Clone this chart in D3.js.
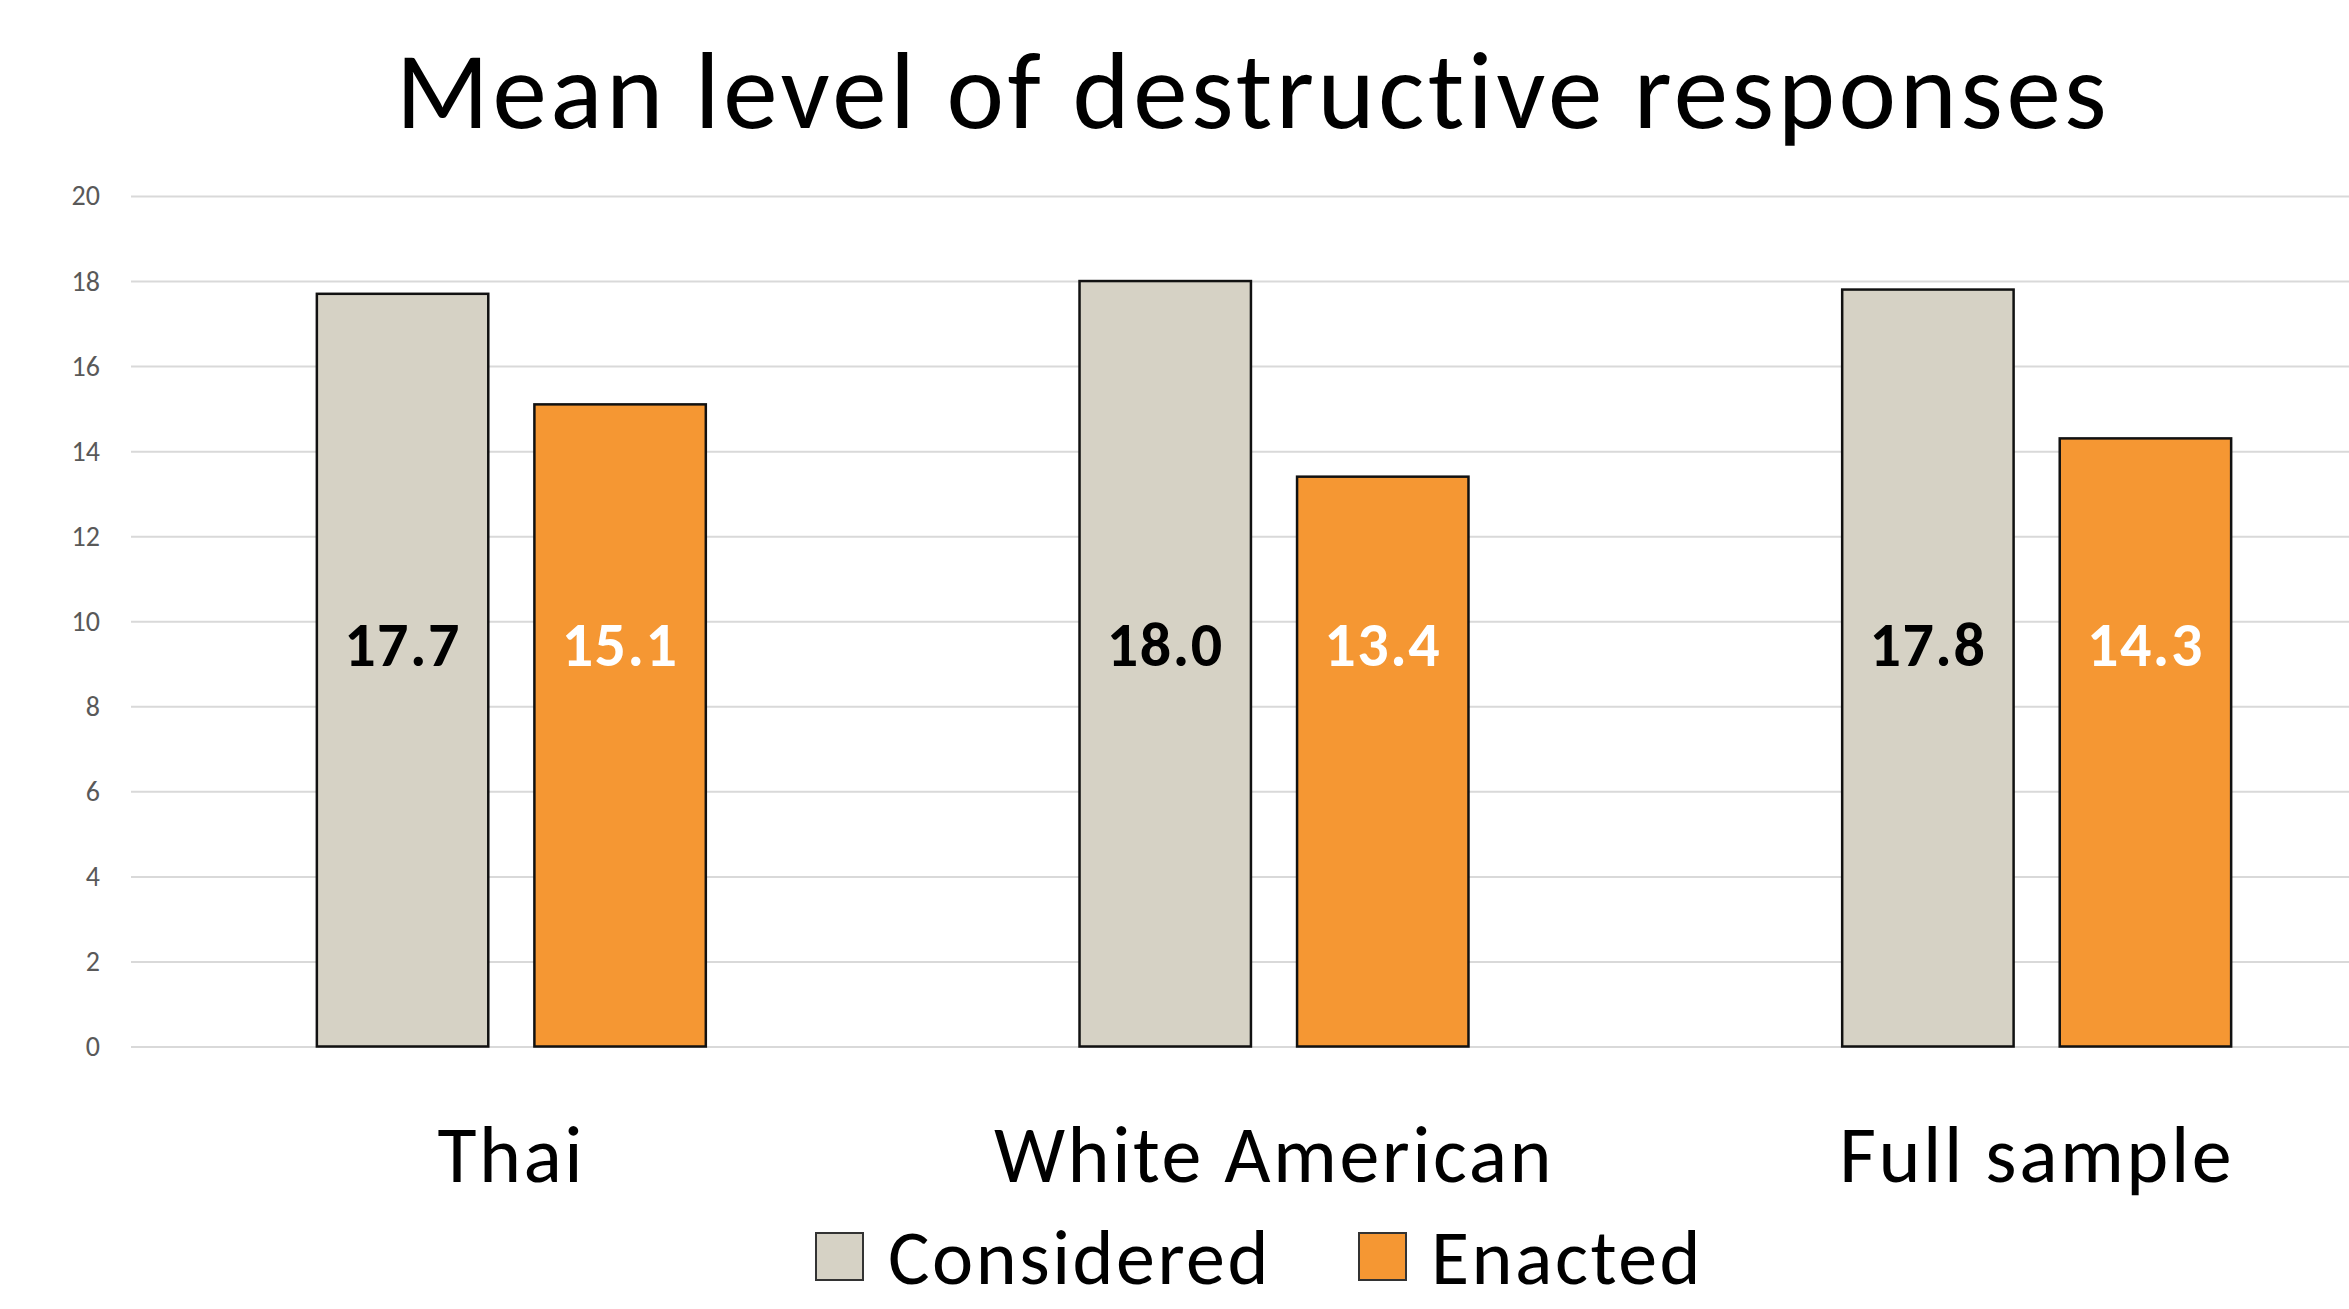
<!DOCTYPE html>
<html>
<head>
<meta charset="utf-8">
<script src="https://cdn.jsdelivr.net/npm/d3@7"></script>
<style>
  body { margin: 0; background: #fff; }
  svg { display: block; font-family: Calibri, Carlito, Lato, sans-serif; }
</style>
</head>
<body>
<svg id="chart"></svg>
<script>
// Data
const groups = ["Thai", "White American", "Full sample"];
const series = ["Considered", "Enacted"];
const considered = [17.7, 18.0, 17.8];
const enacted = [15.1, 13.4, 14.3];
const yTicks = [0, 2, 4, 6, 8, 10, 12, 14, 16, 18, 20];

const width = 2349;
const height = 1309;

const colors = { Considered: "#d6d2c5", Enacted: "#f59733" };
const labelColors = { Considered: "#000", Enacted: "#fff" };

const svg = d3.select("#chart")
    .attr("width", width)
    .attr("height", height);

// Scales
const x0 = d3.scaleBand()
    .domain(groups)
    .range([130, 2418])
    .paddingInner(0.49)
    .paddingOuter(0.245);

const x1 = d3.scaleBand()
    .domain(series)
    .range([0, x0.bandwidth()])
    .paddingInner(0.212);

const y = d3.scaleLinear()
    .domain([0, 20])
    .range([1046.5, 196]);

// Title
svg.append("text")
    .attr("x", 1253)
    .attr("y", 128)
    .attr("text-anchor", "middle")
    .style("font-size", "109px")
    .style("letter-spacing", "3.5px")
    .attr("fill", "#000")
    .text("Mean level of destructive responses");

// Gridlines + y axis labels
const yAxis = d3.axisLeft(y)
    .tickValues(yTicks)
    .tickSize(-(width - 131))
    .tickPadding(31);

const gy = svg.append("g")
    .attr("transform", "translate(131,0)")
    .call(yAxis);

gy.select(".domain").remove();
gy.selectAll(".tick line")
    .attr("stroke", "#d9d9d9")
    .attr("stroke-width", 2);
gy.selectAll(".tick text")
    .attr("fill", "#595959")
    .style("font-size", "28px")
    .style("font-family", "Calibri, Carlito, Lato, sans-serif");

// Bars
const rows = groups.map((g, i) => ({
  group: g,
  values: [
    { key: "Considered", value: considered[i] },
    { key: "Enacted", value: enacted[i] }
  ]
}));

const gGroups = svg.selectAll(".group")
    .data(rows)
  .enter().append("g")
    .attr("class", "group")
    .attr("transform", d => `translate(${x0(d.group)},0)`);

gGroups.selectAll("rect")
    .data(d => d.values)
  .enter().append("rect")
    .attr("x", d => x1(d.key))
    .attr("y", d => y(d.value))
    .attr("width", x1.bandwidth())
    .attr("height", d => y(0) - y(d.value))
    .attr("fill", d => colors[d.key])
    .attr("stroke", "#111")
    .attr("stroke-width", 2.5);

// Value labels (placed near middle of plot, as in original)
gGroups.selectAll(".val")
    .data(d => d.values)
  .enter().append("text")
    .attr("class", "val")
    .attr("x", d => x1(d.key) + x1.bandwidth() / 2)
    .attr("y", y(9.45))
    .attr("dy", "0.35em")
    .attr("text-anchor", "middle")
    .style("font-size", "62px")
    .style("font-weight", "bold")
    .style("letter-spacing", "1.5px")
    .attr("fill", d => labelColors[d.key])
    .text(d => d.value.toFixed(1));

// Category labels
svg.selectAll(".cat")
    .data(groups)
  .enter().append("text")
    .attr("class", "cat")
    .attr("x", d => x0(d) + x0.bandwidth() / 2)
    .attr("y", 1182)
    .attr("text-anchor", "middle")
    .style("font-size", "80px")
    .style("letter-spacing", "2.5px")
    .attr("fill", "#000")
    .text(d => d);

// Legend
const legendX = [816, 1359];
const legend = svg.selectAll(".legend")
    .data(series)
  .enter().append("g")
    .attr("class", "legend")
    .attr("transform", (d, i) => `translate(${legendX[i]},1233)`);

legend.append("rect")
    .attr("width", 47)
    .attr("height", 47)
    .attr("fill", d => colors[d])
    .attr("stroke", "#333")
    .attr("stroke-width", 2);

legend.append("text")
    .attr("x", 72)
    .attr("y", 51)
    .style("font-size", "78px")
    .style("letter-spacing", "2.5px")
    .attr("fill", "#000")
    .text(d => d);
</script>
</body>
</html>
